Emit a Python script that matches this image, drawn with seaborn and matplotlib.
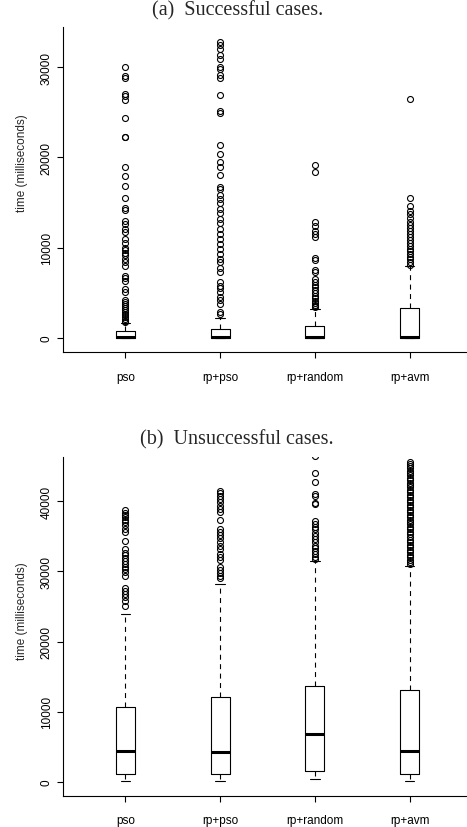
import matplotlib
matplotlib.use("Agg")
import matplotlib.pyplot as plt
import seaborn as sns

groups = ["pso", "rp+pso", "rp+random", "rp+avm"]

# (a) successful cases - box summary
succ_whislo = [0, 0, 0, 0]
succ_q1 = [20, 30, 20, 30]
succ_med = [120, 150, 80, 120]
succ_q3 = [740, 1000, 1360, 3290]
succ_whishi = [1660, 2180, 3210, 8000]

succ_out_pso = [35000, 30000, 29000, 28800, 27000, 26800, 26400, 24400, 22300, 22200,
                18900, 17900, 16800, 15500, 14400, 14200, 12900, 12600, 12100, 11700,
                11000, 10500, 10000, 9700, 9400, 9200, 8800, 8400, 8000, 6900, 6600,
                6300, 5400, 5100, 4200, 4000, 3800, 3600, 3300, 3100, 2900, 2700, 2500,
                2300, 2100, 1900, 1800]
succ_out_rppso = [32800, 32400, 32000, 31300, 30900, 30000, 29800, 29100, 28800, 26900,
                  25100, 24900, 21400, 20400, 19500, 18900, 18000, 16700, 16500, 15800,
                  15400, 14900, 14300, 13800, 13200, 12700, 12100, 11500, 11000, 10400,
                  9900, 9300, 8800, 8400, 7700, 7300, 6200, 5800, 5500, 5100, 4500,
                  4200, 3800, 2900, 2700]
succ_out_rprandom = [19200, 18400, 12800, 12400, 11900, 11500, 11200, 8900, 8600, 7500,
                     7300, 6500, 6200, 5900, 5600, 5300, 5000, 4700, 4400, 4100, 3900,
                     3700, 3500, 3400]
succ_out_rpavm = [26500, 15500, 14600, 14100, 13700, 13300, 12800, 12500, 12200, 11900,
                  11500, 11200, 10900, 10500, 10200, 9900, 9600, 9300, 9000, 8700, 8400,
                  8100]

# (b) unsuccessful cases
unsucc_whislo = [190, 190, 430, 100]
unsucc_q1 = [1140, 1140, 1520, 1140]
unsucc_med = [4370, 4230, 6840, 4460]
unsucc_q3 = [10640, 12070, 13640, 13160]
unsucc_whishi = [23940, 28220, 31540, 30830]

unsucc_out_pso = [38700, 38400, 38100, 37800, 37400, 37000, 36600, 36000, 35600, 34300,
                  33200, 32700, 32300, 31900, 31500, 31100, 30700, 30300, 29900, 29300,
                  27600, 27200, 26800, 26300, 25800, 25100]
unsucc_out_rppso = [41500, 41200, 40800, 40300, 39900, 39400, 38900, 38500, 37400, 36000,
                    35600, 35200, 34700, 34200, 33700, 33200, 32500, 32000, 31600, 30600,
                    30200, 29800, 29300, 29000]
unsucc_out_rprandom = [46500, 44100, 42700, 41000, 40700, 39800, 39600, 37200, 36800,
                       36400, 36000, 35500, 35000, 34600, 34200, 33700, 33300, 32900,
                       32500, 32100, 31800]
unsucc_out_rpavm = [45600, 45300, 45000, 44700, 44300, 44000, 43700, 43300, 43000, 42600,
                    42300, 42000, 41600, 41300, 40900, 40600, 40200, 39900, 39500, 39200,
                    38800, 38500, 38100, 37800, 37400, 37100, 36700, 36300, 36000, 35600,
                    35300, 34900, 34500, 34200, 33800, 33500, 33100, 32800, 32400, 32100,
                    31700, 31400, 31100]

succ_yticks = [0, 10000, 20000, 30000]
unsucc_yticks = [0, 10000, 20000, 30000, 40000]

sns.set_style("ticks")
plt.rcParams['font.family'] = ['Liberation Sans', 'DejaVu Sans']

fig = plt.figure(figsize=(4.67, 8.28), dpi=100)
ax_top = fig.add_axes([63 / 467, 1 - 353.3 / 828, 409 / 467, 325.3 / 828])
ax_bot = fig.add_axes([63 / 467, 1 - 796.7 / 828, 409 / 467, 338.4 / 828])


def draw_panel(ax, whislo, q1, med, q3, whishi, fliers, ylim, yticks):
    stats = []
    for i, g in enumerate(groups):
        stats.append(dict(label=g, whislo=whislo[i], q1=q1[i], med=med[i],
                          q3=q3[i], whishi=whishi[i], fliers=fliers[i]))
    ax.bxp(stats, positions=[1, 2, 3, 4], widths=0.2, capwidths=0.1,
           manage_ticks=False,
           boxprops=dict(color="black", linewidth=0.8),
           medianprops=dict(color="black", linewidth=2.2, solid_capstyle="butt"),
           whiskerprops=dict(color="black", linewidth=0.8, linestyle=(0, (4.5, 4))),
           capprops=dict(color="black", linewidth=0.8),
           flierprops=dict(marker="o", markerfacecolor="none", markeredgecolor="black",
                           markersize=4.3, markeredgewidth=0.8))
    ax.set_xlim(0.34, 4.66)
    ax.set_ylim(*ylim)
    ax.set_xticks([1, 2, 3, 4])
    ax.set_xticklabels(groups, fontsize=8.5)
    ax.set_yticks(yticks)
    ax.set_yticklabels([str(t) for t in yticks], rotation=90, va="center", fontsize=8.5)
    sns.despine(ax=ax)
    for s in ["left", "bottom"]:
        ax.spines[s].set_linewidth(0.8)
        ax.spines[s].set_color("black")
    ax.tick_params(axis="both", length=4.3, width=0.8, color="black", labelcolor="black")
    ax.tick_params(axis="y", pad=3)
    ax.tick_params(axis="x", pad=9)


draw_panel(ax_top, succ_whislo, succ_q1, succ_med, succ_q3, succ_whishi,
           [succ_out_pso, succ_out_rppso, succ_out_rprandom, succ_out_rpavm],
           (-1580, 34430), succ_yticks)
draw_panel(ax_bot, unsucc_whislo, unsucc_q1, unsucc_med, unsucc_q3, unsucc_whishi,
           [unsucc_out_pso, unsucc_out_rppso, unsucc_out_rprandom, unsucc_out_rpavm],
           (-1950, 46270), unsucc_yticks)

fig.text(238 / 467, 1 - 11 / 828, "(a)  Successful cases.", ha="center", va="center",
         fontsize=14.5, family=["Liberation Serif", "DejaVu Serif"])
fig.text(237 / 467, 1 - 440 / 828, "(b)  Unsuccessful cases.", ha="center", va="center",
         fontsize=14.5, family=["Liberation Serif", "DejaVu Serif"])
fig.text(22 / 467, 1 - 163 / 828, "time (milliseconds)", rotation=90, ha="center",
         va="center", fontsize=8.5)
fig.text(22 / 467, 1 - 611 / 828, "time (milliseconds)", rotation=90, ha="center",
         va="center", fontsize=8.5)

fig.savefig("out.png", dpi=100)
